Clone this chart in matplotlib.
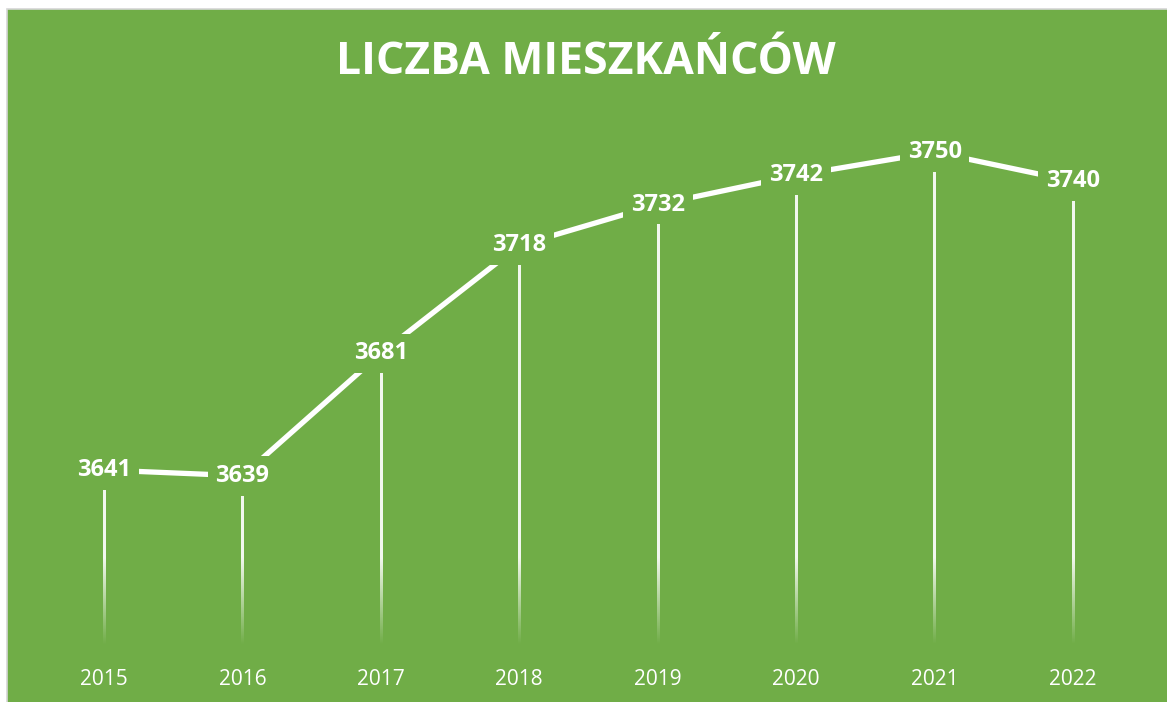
import numpy as np
import matplotlib.pyplot as plt
from matplotlib.patches import Rectangle

years = ['2015', '2016', '2017', '2018', '2019', '2020', '2021', '2022']
residents = [3641, 3639, 3681, 3718, 3732, 3742, 3750, 3740]
title = 'LICZBA MIESZKAŃCÓW'

green = '#70AD47'
W, H = 1167, 702

fig = plt.figure(figsize=(W / 100, H / 100), dpi=100, facecolor='white')
# green chart area with thin grey frame on top/left
fig.patches.append(Rectangle((7 / W, -0.05), 1.1, 1 - 9 / H + 0.05, transform=fig.transFigure,
                             facecolor=green, edgecolor='#d6d6d6', lw=1.2, zorder=-5))

ax = fig.add_axes([34.8 / W, 57 / H, 1107.4 / W, (645 - 120) / H])
ax.set_facecolor('none')
x = np.arange(len(years))
y0, y1 = 3581, 3761

# drop lines as thin gradient images, fading out towards the axis
fade_top = y0 + 30
half_w = 1.1 / 138.4
for xi, v in zip(x, residents):
    yy = np.linspace(v, y0, 300)
    grad = np.ones((300, 1, 4))
    grad[:, 0, 3] = 0.92 * np.clip((yy - y0) / (fade_top - y0), 0, 1)
    ax.imshow(grad, extent=[xi - half_w, xi + half_w, y0, v], aspect='auto',
              interpolation='bilinear', zorder=1)

ax.set_xlim(-0.5, len(years) - 0.5)
ax.set_ylim(y0, y1)

ax.plot(x, residents, color='white', lw=3.8, solid_capstyle='butt', zorder=2)

for xi, v in zip(x, residents):
    ax.text(xi, v, str(v), ha='center', va='center', color='white', fontsize=17,
            fontweight='bold', family='Open Sans', zorder=3,
            bbox=dict(boxstyle='square,pad=0.33', facecolor=green, edgecolor='none'))

ax.set_xticks(x)
ax.set_xticklabels(years, color='white', fontsize=15, family='Open Sans')
ax.tick_params(axis='x', length=0, pad=17)
ax.set_yticks([])
for s in ax.spines.values():
    s.set_visible(False)

fig.text(586 / W, 1 - 62 / H, title, ha='center', va='center',
         color='white', fontsize=32, fontweight='bold', family='Open Sans')

fig.savefig('out.png', dpi=100, facecolor=fig.get_facecolor())
